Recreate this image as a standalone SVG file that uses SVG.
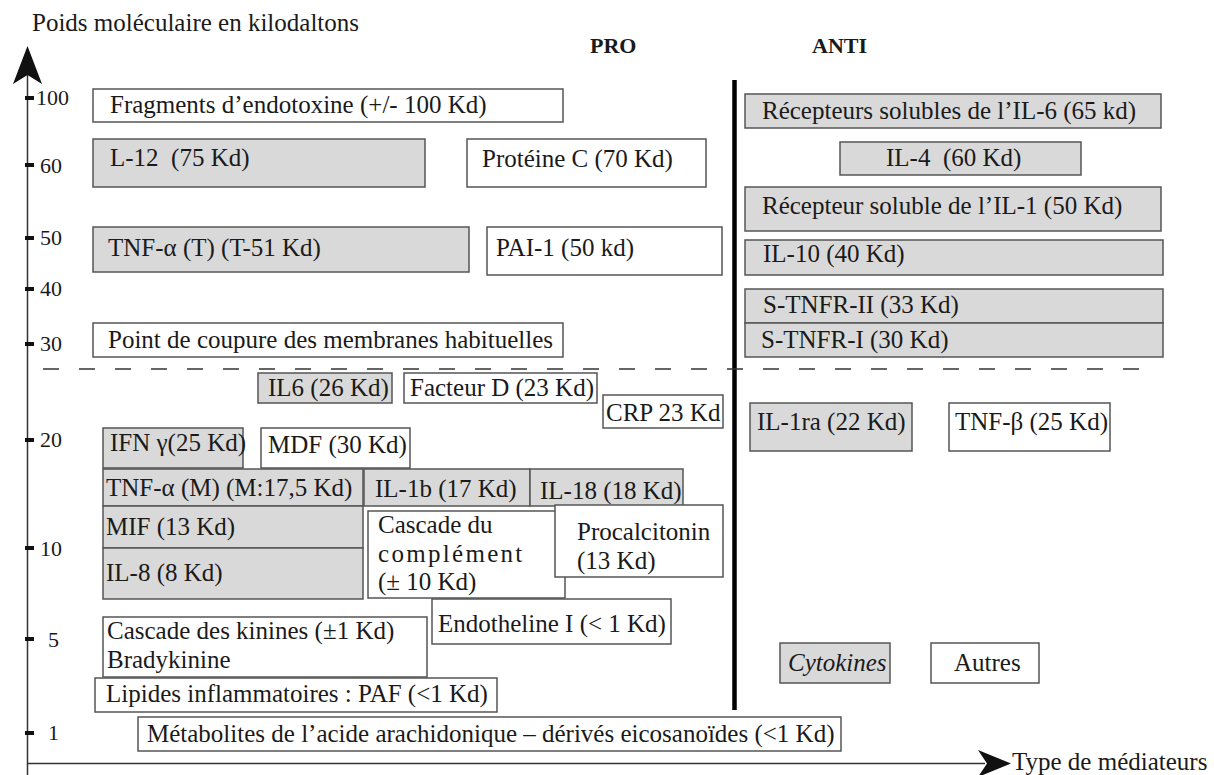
<svg xmlns="http://www.w3.org/2000/svg" width="1214" height="775" viewBox="0 0 1214 775">
<style>
.box{stroke:#555;stroke-width:1.5}
.g{fill:#d9d9d9}
.w{fill:#fff}
text{font-family:"Liberation Serif","Times New Roman",serif;font-size:25px;fill:#1a1a1a}
.pre{white-space:pre}
.tl{font-size:22px}
.hd{font-size:22px;font-weight:bold}
.tick{stroke:#111;stroke-width:4}
</style>
<rect width="1214" height="775" fill="#fff"/>
<text x="32" y="31">Poids moléculaire en kilodaltons</text>
<text class="hd" x="590" y="53">PRO</text>
<text class="hd" x="812" y="53">ANTI</text>

<g id="connectors">
  <line x1="27.5" y1="70" x2="27.5" y2="775" stroke="#333" stroke-width="1.5"/>
  <polygon points="27.5,46 42,84 27.5,75 13,84" fill="#111"/>
  <line x1="27.5" y1="763.5" x2="985" y2="763.5" stroke="#333" stroke-width="1.5"/>
  <polygon points="1011,763.5 978,750 987,763.5 978,777" fill="#111"/>
  <line x1="734.5" y1="80" x2="734.5" y2="710" stroke="#000" stroke-width="4.5"/>
  <line x1="43" y1="369" x2="1155" y2="369" stroke="#333" stroke-width="1.3" stroke-dasharray="16 20"/>
</g>

<g id="axis-ticks">
  <line class="tick" x1="25" y1="98" x2="34" y2="98"/>
  <line class="tick" x1="25" y1="165" x2="34" y2="165"/>
  <line class="tick" x1="25" y1="238" x2="34" y2="238"/>
  <line class="tick" x1="25" y1="289" x2="34" y2="289"/>
  <line class="tick" x1="25" y1="344" x2="34" y2="344"/>
  <line class="tick" x1="25" y1="440" x2="34" y2="440"/>
  <line class="tick" x1="25" y1="548" x2="34" y2="548"/>
  <line class="tick" x1="25" y1="639" x2="34" y2="639"/>
  <line class="tick" x1="25" y1="733" x2="34" y2="733"/>
  <text class="tl" x="36" y="105">100</text>
  <text class="tl" x="40" y="173">60</text>
  <text class="tl" x="40" y="245">50</text>
  <text class="tl" x="40" y="296">40</text>
  <text class="tl" x="40" y="351">30</text>
  <text class="tl" x="40" y="447">20</text>
  <text class="tl" x="40" y="556">10</text>
  <text class="tl" x="48" y="647">5</text>
  <text class="tl" x="48" y="740">1</text>
</g>
<text x="1012" y="770">Type de médiateurs</text>

<g id="fragments"><rect class="box w" x="93" y="89" width="470" height="33"/><text x="110" y="113">Fragments d’endotoxine (+/- 100 Kd)</text></g>
<g id="il12"><rect class="box g" x="93" y="139" width="332" height="48"/><text class="pre" x="110" y="166">L-12  (75 Kd)</text></g>
<g id="proteinec"><rect class="box w" x="467" y="139" width="239" height="48"/><text x="482" y="167">Protéine C (70 Kd)</text></g>
<g id="tnfa-t"><rect class="box g" x="93" y="227" width="376" height="45"/><text x="108" y="256">TNF-α (T) (T-51 Kd)</text></g>
<g id="pai1"><rect class="box w" x="487" y="227" width="235" height="48"/><text x="496" y="256">PAI-1 (50 kd)</text></g>
<g id="point-coupure"><rect class="box w" x="93" y="323" width="470" height="34"/><text x="108" y="348">Point de coupure des membranes habituelles</text></g>

<g id="il6"><rect class="box g" x="258" y="373" width="134" height="30"/><text x="268" y="396">IL6 (26 Kd)</text></g>
<g id="facteurd"><rect class="box w" x="404" y="373" width="193" height="30"/><text x="410" y="396">Facteur D (23 Kd)</text></g>
<g id="crp"><rect class="box w" x="603" y="395" width="120" height="33"/><text x="606" y="421">CRP 23 Kd</text></g>
<g id="ifng"><rect class="box g" x="103" y="428" width="140" height="40"/><text x="110" y="451">IFN γ(25 Kd)</text></g>
<g id="mdf"><rect class="box w" x="261" y="428" width="149" height="40"/><text x="268" y="453">MDF (30 Kd)</text></g>
<g id="tnfa-m"><rect class="box g" x="103" y="469" width="260" height="37"/><text x="106" y="496">TNF-α (M) (M:17,5 Kd)</text></g>
<g id="il1b"><rect class="box g" x="364" y="469" width="166" height="37"/><text x="375" y="497">IL-1b (17 Kd)</text></g>
<g id="il18"><rect class="box g" x="530" y="469" width="153" height="37"/><text x="540" y="499">IL-18 (18 Kd)</text></g>
<g id="mif"><rect class="box g" x="103" y="506" width="260" height="42"/><text x="106" y="535">MIF (13 Kd)</text></g>
<g id="il8"><rect class="box g" x="103" y="548" width="260" height="51"/><text x="106" y="581">IL-8 (8 Kd)</text></g>
<g id="cascade-complement"><rect class="box w" x="368" y="511" width="197" height="87"/><text x="378" y="533">Cascade du</text><text x="378" y="562" letter-spacing="2.3">complément</text><text x="378" y="590">(± 10 Kd)</text></g>
<g id="procalcitonin"><rect class="box w" x="555" y="505" width="168" height="72"/><text x="577" y="540">Procalcitonin</text><text x="577" y="569">(13 Kd)</text></g>
<g id="endotheline"><rect class="box w" x="432" y="599" width="239" height="45"/><text x="438" y="632">Endotheline I (&lt; 1 Kd)</text></g>
<g id="kinines"><rect class="box w" x="103" y="617" width="324" height="60"/><text x="107" y="639">Cascade des kinines (±1 Kd)</text><text x="107" y="668">Bradykinine</text></g>
<g id="lipides"><rect class="box w" x="95" y="678" width="402" height="34"/><text x="106" y="702">Lipides inflammatoires : PAF (&lt;1 Kd)</text></g>
<g id="metabolites"><rect class="box w" x="138" y="717" width="703" height="34"/><text x="147" y="742">Métabolites de l’acide arachidonique – dérivés eicosanoïdes (&lt;1 Kd)</text></g>

<g id="rs-il6"><rect class="box g" x="745" y="94" width="416" height="34"/><text x="762" y="119">Récepteurs solubles de l’IL-6 (65 kd)</text></g>
<g id="il4"><rect class="box g" x="840" y="142" width="241" height="33"/><text class="pre" x="886" y="166">IL-4  (60 Kd)</text></g>
<g id="rs-il1"><rect class="box g" x="745" y="187" width="416" height="44"/><text x="762" y="214">Récepteur soluble de l’IL-1 (50 Kd)</text></g>
<g id="il10"><rect class="box g" x="745" y="240" width="418" height="35"/><text x="763" y="262">IL-10 (40 Kd)</text></g>
<g id="stnfr2"><rect class="box g" x="745" y="289" width="418" height="34"/><text x="763" y="313">S-TNFR-II (33 Kd)</text></g>
<g id="stnfr1"><rect class="box g" x="745" y="323" width="418" height="34"/><text x="761" y="348">S-TNFR-I (30 Kd)</text></g>
<g id="il1ra"><rect class="box g" x="750" y="403" width="162" height="48"/><text x="757" y="430">IL-1ra (22 Kd)</text></g>
<g id="tnfb"><rect class="box w" x="949" y="403" width="161" height="48"/><text x="955" y="430">TNF-β (25 Kd)</text></g>
<g id="legend-cytokines"><rect class="box g" x="780" y="643" width="110" height="40"/><text x="788" y="671" font-style="italic">Cytokines</text></g>
<g id="legend-autres"><rect class="box w" x="931" y="643" width="108" height="40"/><text x="954" y="671">Autres</text></g>
</svg>
